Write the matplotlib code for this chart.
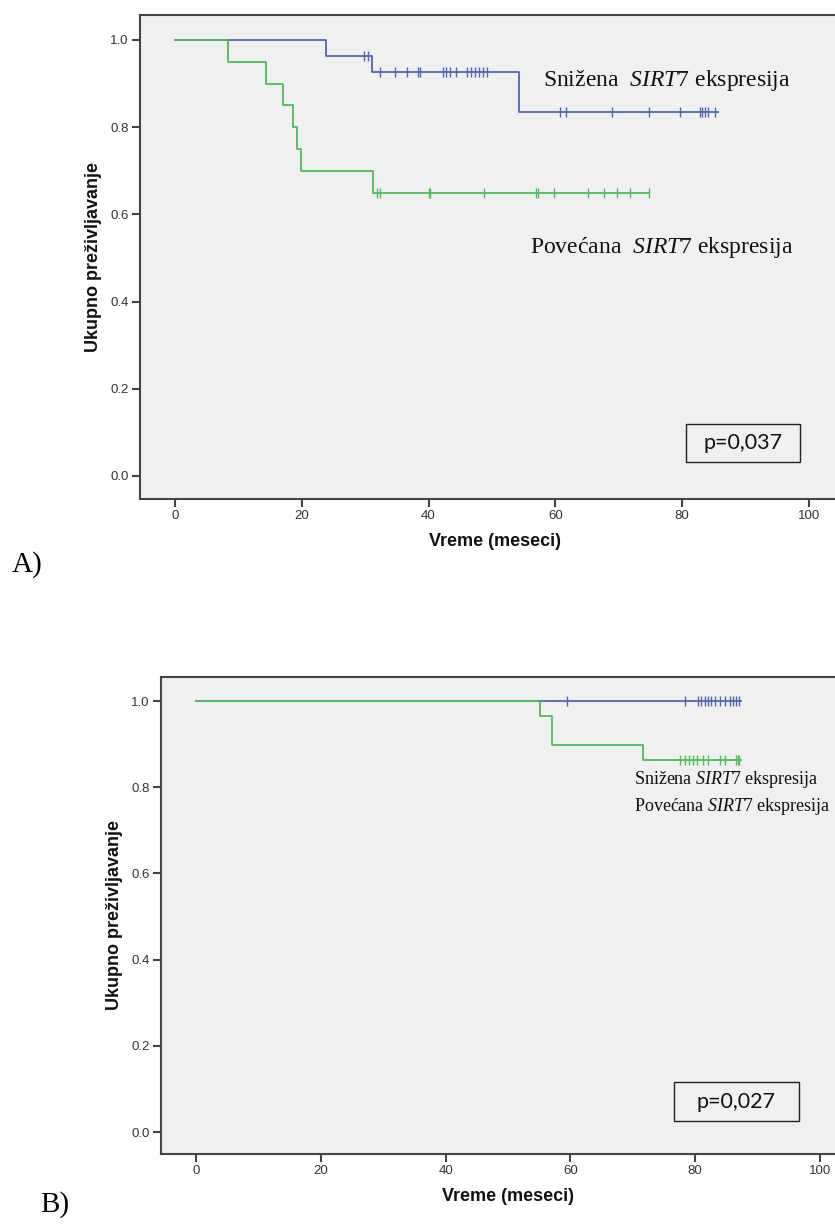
import numpy as np
import matplotlib
matplotlib.use("Agg")
import matplotlib.pyplot as plt
from matplotlib.patches import Rectangle

plt.rcParams['mathtext.fontset'] = 'custom'
plt.rcParams['mathtext.rm'] = 'Liberation Serif'
plt.rcParams['mathtext.it'] = 'Liberation Serif:italic'

# ---------------- data ----------------
# Panel A
a_low_times = [0, 23.8, 31.1, 54.3]
a_low_surv = [1.0, 0.964, 0.927, 0.834]
a_low_end = 85.6
a_low_cens = [29.8, 30.5, 32.4, 34.7, 36.6, 38.3, 38.7, 42.3, 42.7, 43.4, 44.3,
              46.1, 46.7, 47.4, 48.0, 48.6, 49.2, 60.8, 61.7, 68.9, 74.8, 79.7,
              82.8, 83.2, 83.6, 84.1, 85.2]

a_high_times = [0, 8.4, 14.4, 17.0, 18.6, 19.2, 19.9, 31.3]
a_high_surv = [1.0, 0.95, 0.90, 0.85, 0.80, 0.75, 0.70, 0.65]
a_high_end = 74.7
a_high_cens = [31.8, 32.3, 40.0, 40.3, 48.8, 57.0, 57.3, 59.8, 65.2, 67.7,
               69.7, 71.7, 74.7]

# Panel B
b_low_times = [0]
b_low_surv = [1.0]
b_low_end = 87.3
b_low_cens = [59.5, 78.3, 80.5, 81.0, 81.5, 82.0, 82.6, 83.2, 84.0, 84.8,
              85.5, 86.0, 86.5, 87.0]

b_high_times = [0, 55.1, 57.0, 71.7]
b_high_surv = [1.0, 0.966, 0.897, 0.862]
b_high_end = 87.3
b_high_cens = [77.5, 78.3, 79.0, 79.6, 80.3, 81.3, 82.0, 84.0, 84.7, 86.5,
               86.8, 87.1]

x_ticks = [0, 20, 40, 60, 80, 100]
y_ticks = [0.0, 0.2, 0.4, 0.6, 0.8, 1.0]
y_tick_labels = ["0.0", "0.2", "0.4", "0.6", "0.8", "1.0"]

label_low = r'Snižena  $\mathit{SIRT7}$ ekspresija'
label_high = r'Povećana  $\mathit{SIRT7}$ ekspresija'
label_low_b = r'Snižena $\mathit{SIRT7}$ ekspresija'
label_high_b = r'Povećana $\mathit{SIRT7}$ ekspresija'
p_a = "p=0,037"
p_b = "p=0,027"
xlabel = "Vreme (meseci)"
ylabel = "Ukupno preživljavanje"

BLUE = '#5066b2'
GREEN = '#4cbf59'
SPINE = '#444444'

W, H = 835, 1227
fig = plt.figure(figsize=(W / 100, H / 100), dpi=100)


def km(ax, times, surv, end, cens, color):
    t = np.asarray(times, float)
    s = np.asarray(surv, float)
    xs = np.append(t, end)
    ys = np.append(s, s[-1])
    ax.step(xs, ys, where='post', color=color, lw=1.3, zorder=3)
    c = np.asarray(cens, float)
    idx = np.searchsorted(t, c, side='right') - 1
    ax.plot(c, s[idx], ls='none', marker='|', ms=7.5, mew=1.0, color=color, zorder=4)


def style(ax, xlim, ylim):
    ax.set_facecolor('#f0f0f0')
    ax.set_xlim(*xlim)
    ax.set_ylim(*ylim)
    ax.set_xticks(x_ticks)
    ax.set_xticklabels([str(v) for v in x_ticks])
    ax.set_yticks(y_ticks)
    ax.set_yticklabels(y_tick_labels)
    for sp in ['left', 'bottom', 'top']:
        ax.spines[sp].set_color(SPINE)
        ax.spines[sp].set_linewidth(1.5)
    ax.spines['right'].set_visible(False)
    ax.tick_params(direction='out', length=6, width=1.5, color=SPINE,
                   labelsize=9.5, labelcolor='#333333', pad=2)
    for lab in ax.get_xticklabels() + ax.get_yticklabels():
        lab.set_family('Liberation Sans')
    ax.set_xlabel(xlabel, family='Liberation Sans', fontweight='bold',
                  fontsize=13, color='#111111', labelpad=8)
    ax.set_ylabel(ylabel, family='Liberation Sans', fontweight='bold',
                  fontsize=13, color='#111111', labelpad=6)


# ---------------- Panel A ----------------
axA = fig.add_axes([140 / W, 1 - 499 / H, (850 - 140) / W, (499 - 15) / H])
style(axA, (-5.5, (850 - 175) / 6.34), (-0.0528, 1.0573))
km(axA, a_low_times, a_low_surv, a_low_end, a_low_cens, BLUE)
km(axA, a_high_times, a_high_surv, a_high_end, a_high_cens, GREEN)
axA.text(58.0, 0.908, label_low, family='Liberation Serif', fontsize=17,
         va='center', ha='left', color='#111111')
axA.text(56.0, 0.525, label_high, family='Liberation Serif', fontsize=17,
         va='center', ha='left', color='#111111')
axA.add_patch(Rectangle((80.6, 0.032), 18.0, 0.087, fill=False,
                        ec='#222222', lw=1.0, zorder=5))
axA.text(89.6, 0.0755, p_a, family='Lato', fontsize=15.5, ha='center',
         va='center', color='#111111', zorder=6)

# ---------------- Panel B ----------------
axB = fig.add_axes([161 / W, 1 - 1154 / H, (856 - 161) / W, (1154 - 677) / H])
style(axB, (-5.6, (856 - 196) / 6.24), (-0.051, 1.0557))
km(axB, b_low_times, b_low_surv, b_low_end, b_low_cens, BLUE)
km(axB, b_high_times, b_high_surv, b_high_end, b_high_cens, GREEN)
axB.text(70.2, 0.817, label_low_b, family='Liberation Serif', fontsize=13,
         va='center', ha='left', color='#111111')
axB.text(70.2, 0.755, label_high_b, family='Liberation Serif', fontsize=13,
         va='center', ha='left', color='#111111')
axB.add_patch(Rectangle((76.6, 0.025), 20.0, 0.09, fill=False,
                        ec='#222222', lw=1.0, zorder=5))
axB.text(86.6, 0.07, p_b, family='Lato', fontsize=15.5, ha='center',
         va='center', color='#111111', zorder=6)

fig.text(12 / W, 1 - 565 / H, "A)", family='Liberation Serif', fontsize=21,
         va='center', ha='left')
fig.text(40 / W, 1 - 1205 / H, "B)", family='Liberation Serif', fontsize=21,
         va='center', ha='left')

fig.savefig("out.png", dpi=100, facecolor='white')
